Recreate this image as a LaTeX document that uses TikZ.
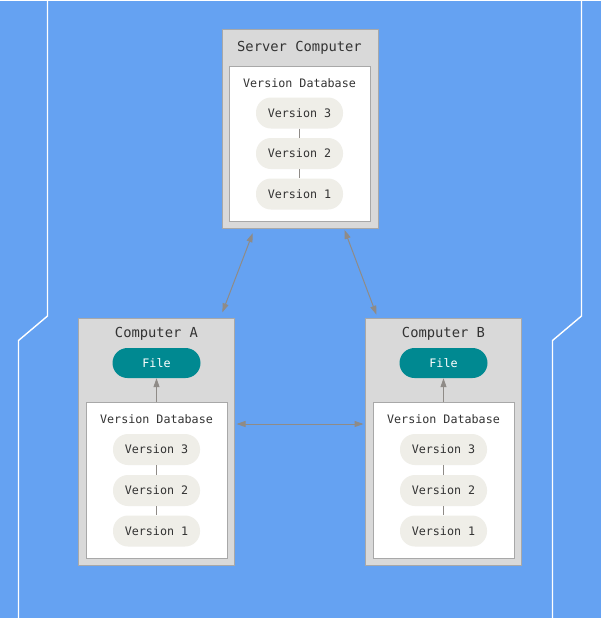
\documentclass[tikz,border=0pt]{standalone}
\usepackage{fontspec}
\setmainfont{DejaVu Sans Mono}
\usetikzlibrary{arrows.meta,calc}
\definecolor{bgblue}{RGB}{101,162,242}
\definecolor{boxgray}{RGB}{217,217,217}
\definecolor{boxedge}{RGB}{168,168,168}
\definecolor{pillfill}{RGB}{239,238,232}
\definecolor{txt}{RGB}{51,51,51}
\definecolor{teal}{RGB}{0,137,145}
\definecolor{arrowgray}{RGB}{143,139,135}
\tikzset{
  outerbox/.style={draw=boxedge,fill=boxgray,line width=1pt,minimum width=156pt,inner sep=0pt},
  innerbox/.style={draw=boxedge,fill=white,line width=1pt,minimum width=141pt,inner sep=0pt},
  title/.style={text=txt,font=\fontsize{13.8}{15}\selectfont,inner sep=0pt},
  dbtitle/.style={text=txt,font=\fontsize{11.7}{13}\selectfont,inner sep=0pt},
  pill/.style={fill=pillfill,rounded corners=15pt,minimum width=87pt,minimum height=31pt,text=txt,font=\fontsize{11.7}{13}\selectfont,inner sep=0pt},
  filepill/.style={fill=teal,rounded corners=15pt,minimum width=88pt,minimum height=30pt,text=white,font=\fontsize{11.7}{13}\selectfont,inner sep=0pt},
  link/.style={draw=arrowgray,line width=0.8pt},
  dblarrow/.style={draw=arrowgray,line width=1pt,{Triangle[length=9pt,width=6pt]}-{Triangle[length=9pt,width=6pt]}},
  onearrow/.style={draw=arrowgray,line width=1pt,-{Triangle[length=9pt,width=6pt]}},
  whiteline/.style={draw=white,line width=1.4pt}
}
\begin{document}
\begin{tikzpicture}[x=1pt,y=-1pt]
\useasboundingbox (0,0) rectangle (601,619);
\fill[bgblue] (0,0) rectangle (601,619);
\draw[whiteline] (0,0.7) -- (601,0.7);
\draw[whiteline] (0,618.3) -- (601,618.3);
\draw[whiteline] (47.5,0) -- (47.5,316) -- (18.5,340.5) -- (18.5,619);
\draw[whiteline] (581.5,0) -- (581.5,316) -- (552.5,340.5) -- (552.5,619);

% Server
\node[outerbox,minimum height=199pt] (server) at (300,128.5) {};
\node[innerbox,minimum height=155pt] (serverdb) at (299.5,143.5) {};
\node[title] (servertitle) at (299.5,47.5) {Server Computer};
\node[dbtitle] (serverdbt) at (299.5,83.5) {Version Database};
\node[pill] (s3) at (299.5,113) {Version 3};
\node[pill] (s2) at (299.5,153.5) {Version 2};
\node[pill] (s1) at (299.5,194) {Version 1};
\draw[link] (s3) -- (s2);
\draw[link] (s2) -- (s1);

% Computer A
\node[outerbox,minimum height=247pt] (compa) at (156.5,441.5) {};
\node[innerbox,minimum height=156pt] (dba) at (156.5,480) {};
\node[title] (atitle) at (156.5,333.5) {Computer A};
\node[filepill] (filea) at (156.5,363) {File};
\node[dbtitle] (dbat) at (156.5,419.5) {Version Database};
\node[pill] (a3) at (156.5,449.5) {Version 3};
\node[pill] (a2) at (156.5,490.5) {Version 2};
\node[pill] (a1) at (156.5,531) {Version 1};
\draw[link] (a3) -- (a2);
\draw[link] (a2) -- (a1);
\draw[onearrow] (dba.north) -- (filea.south);

% Computer B
\node[outerbox,minimum height=247pt] (compb) at (443.5,441.5) {};
\node[innerbox,minimum height=156pt] (dbb) at (443.5,480) {};
\node[title] (btitle) at (443.5,333.5) {Computer B};
\node[filepill] (fileb) at (443.5,363) {File};
\node[dbtitle] (dbbt) at (443.5,419.5) {Version Database};
\node[pill] (b3) at (443.5,449.5) {Version 3};
\node[pill] (b2) at (443.5,490.5) {Version 2};
\node[pill] (b1) at (443.5,531) {Version 1};
\draw[link] (b3) -- (b2);
\draw[link] (b2) -- (b1);
\draw[onearrow] (dbb.north) -- (fileb.south);

% connectors between computers
\draw[dblarrow,shorten <=5pt,shorten >=5.5pt] ($(server.south west)+(33,0)$) -- ($(compa.north west)+(142.4,0)$);
\draw[dblarrow,shorten <=1.5pt,shorten >=3pt] ($(server.south west)+(122.5,0)$) -- ($(compb.north west)+(12.5,0)$);
\draw[dblarrow,shorten <=1.5pt,shorten >=1.5pt] ($(compa.east)+(0,-17.5)$) -- ($(compb.west)+(0,-17.5)$);
\end{tikzpicture}
\end{document}
